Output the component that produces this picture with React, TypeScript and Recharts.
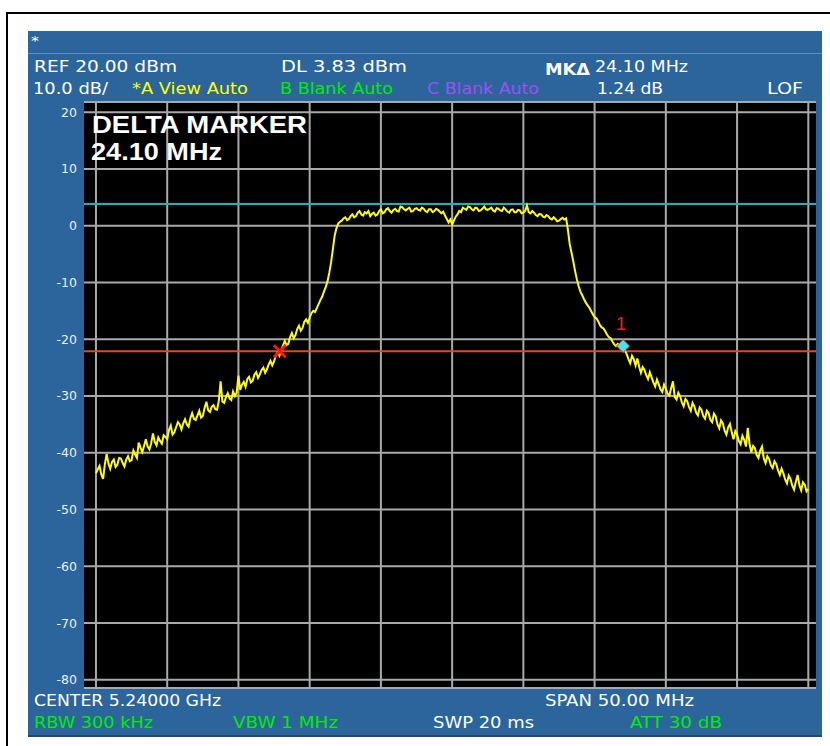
import React from 'react';
import {
  ComposedChart,
  Line,
  XAxis,
  YAxis,
  CartesianGrid,
  ReferenceLine,
  ReferenceDot,
} from 'recharts';

// ---- Data -------------------------------------------------------------
// Sweep: 5.215 GHz .. 5.265 GHz (CENTER 5.24 GHz, SPAN 50 MHz), 401 points
const sweepStartGHz = 5.215;
const sweepStepGHz = 0.000125;
const traceDbm = [
  -43.6, -42.9, -42.3, -43.8, -44.6, -42.0, -40.2, -41.9, -42.8, -41.6,
  -41.2, -42.5, -42.1, -40.9, -41.0, -41.8, -42.4, -41.2, -40.6, -41.5,
  -41.3, -39.6, -40.3, -40.9, -38.2, -39.1, -39.9, -38.8, -37.6, -38.9,
  -39.4, -38.3, -36.6, -38.1, -38.7, -37.3, -37.9, -38.4, -36.9, -37.2,
  -37.6, -36.0, -35.2, -36.8, -36.4, -35.5, -34.6, -35.0, -35.9, -34.8,
  -34.1, -35.0, -35.4, -33.9, -33.0, -34.0, -34.2, -33.4, -32.6, -33.8,
  -33.5, -32.1, -31.0, -32.5, -32.8, -31.9, -31.6, -32.3, -32.4, -30.8,
  -27.4, -31.0, -31.2, -30.2, -29.5, -30.4, -30.7, -29.2, -30.0, -29.4,
  -26.4, -28.9, -28.0, -27.5, -28.4, -27.0, -26.6, -27.6, -27.3, -26.2,
  -25.8, -26.8, -26.2, -25.4, -25.0, -25.9, -25.3, -24.4, -23.8, -24.6,
  -23.9, -22.8, -22.3, -22.9, -22.0, -21.1, -20.3, -21.0, -20.8, -19.6,
  -18.9, -19.8, -19.3, -18.2, -17.6, -18.5, -18.0, -16.9, -16.5, -17.1,
  -16.2, -15.4, -15.0, -15.2, -14.5, -13.8, -13.1, -12.5, -11.6, -10.8,
  -9.8, -8.3, -6.5, -4.2, -1.8, -0.5, 0.4, 0.7, 0.9, 1.3,
  1.5, 1.0, 1.2, 1.7, 2.0, 1.5, 1.7, 2.3, 2.6, 2.0,
  1.8, 2.4, 2.2, 2.6, 1.7, 2.1, 2.3, 1.8, 2.0, 2.6,
  2.9, 2.2, 2.4, 2.9, 3.1, 2.6, 2.3, 2.8, 3.0, 2.6,
  2.5, 3.4, 3.3, 2.9, 2.7, 3.0, 3.2, 2.5, 2.6, 3.0,
  3.1, 2.8, 2.7, 3.2, 3.0, 2.6, 2.4, 2.9, 2.9, 2.4,
  2.6, 3.0, 2.8, 2.5, 2.2, 2.5, 1.8, 1.2, 0.6, 1.1,
  0.2, 0.9, 1.6, 2.0, 2.6, 2.4, 3.2, 3.0, 2.8, 3.4,
  3.3, 2.9, 2.7, 3.2, 3.1, 2.6, 2.7, 3.0, 3.4, 2.9,
  2.8, 3.0, 3.2, 2.7, 2.5, 3.1, 3.0, 2.7, 2.6, 3.2,
  2.9, 2.5, 2.3, 2.8, 2.9, 2.4, 2.4, 2.8, 2.7, 2.2,
  2.3, 2.6, 3.6, 2.4, 2.2, 2.6, 2.3, 1.9, 1.7, 2.1,
  2.0, 1.6, 1.5, 1.9, 1.7, 1.3, 1.1, 1.5, 1.2, 0.8,
  0.9, 1.2, 1.4, 1.1, 1.3, -0.7, -3.2, -4.7, -6.2, -7.9,
  -9.4, -10.6, -11.6, -12.2, -12.9, -13.5, -14.0, -14.4, -15.0, -15.6,
  -16.1, -16.3, -16.8, -17.5, -17.9, -18.1, -18.6, -19.2, -19.6, -19.8,
  -20.4, -20.9, -21.2, -20.8, -21.0, -21.4, -21.2, -22.0, -22.6, -23.5,
  -24.2, -22.9, -23.5, -24.6, -23.4, -24.8, -25.9, -24.9, -25.4, -26.3,
  -27.0, -25.8, -26.7, -27.6, -28.3, -27.1, -27.9, -28.8, -29.3, -28.0,
  -28.7, -29.6, -29.9, -28.6, -27.4, -30.2, -30.6, -29.4, -30.0, -31.1,
  -31.8, -30.5, -30.9, -31.9, -32.6, -31.2, -31.8, -32.9, -33.4, -32.0,
  -32.4, -33.5, -34.0, -32.6, -33.0, -34.2, -34.6, -33.1, -33.6, -35.0,
  -35.7, -34.3, -34.8, -36.1, -36.8, -35.5, -34.9, -36.4, -37.6, -36.2,
  -36.8, -37.9, -38.5, -37.0, -37.7, -38.9, -35.6, -38.4, -39.9, -38.8,
  -39.2, -40.4, -40.9, -39.6, -38.9, -41.0, -41.8, -40.6, -41.1, -42.2,
  -42.7, -41.5, -42.0, -43.1, -43.9, -42.8, -43.6, -44.7, -45.4, -44.0,
  -44.6, -45.8, -46.5, -45.1, -43.9, -45.7, -46.6, -45.2, -45.6, -46.8,
  -46.4,
];

const xGridTicksGHz = [5.215, 5.22, 5.225, 5.23, 5.235, 5.24, 5.245, 5.25, 5.255, 5.26, 5.265];
const yTicksDbm = [-80, -70, -60, -50, -40, -30, -20, -10, 0, 10, 20];
const xDomainGHz: [number, number] = [5.21416, 5.26554];
const yDomainDbm: [number, number] = [-81.44, 21.81];

const displayLineDbm = 3.83;
const refMarker = { f: 5.2279, v: -22.1 };
const deltaMarker = { f: 5.252, v: -21.2, label: '1' };

const chartData = traceDbm.map((v, i) => ({ f: sweepStartGHz + i * sweepStepGHz, v }));

// ---- Shapes ------------------------------------------------------------
const CrossShape = (props: any) => {
  const { cx, cy } = props;
  if (cx == null || cy == null) return null;
  const s = 6;
  return (
    <g>
      <line x1={cx - s} y1={cy - s} x2={cx + s} y2={cy + s} stroke="#ff1414" strokeWidth={3} />
      <line x1={cx - s} y1={cy + s} x2={cx + s} y2={cy - s} stroke="#ff1414" strokeWidth={3} />
    </g>
  );
};

const DiamondShape = (props: any) => {
  const { cx, cy } = props;
  if (cx == null || cy == null) return null;
  const s = 6.5;
  return (
    <g>
      <path
        d={`M${cx},${cy - s} L${cx + s},${cy} L${cx},${cy + s} L${cx - s},${cy} Z`}
        fill="#3ee6f2"
        stroke="#ff2a2a"
        strokeWidth={1}
      />
      <text
        x={cx - 2}
        y={cy - 16}
        textAnchor="middle"
        fill="#ff1a1a"
        fontSize={18}
        fontFamily="'Liberation Sans', Arial, sans-serif"
      >
        {deltaMarker.label}
      </text>
    </g>
  );
};

const NARROW = "'Liberation Sans Narrow', 'Arial Narrow', 'DejaVu Sans Condensed', sans-serif";

const T = ({ x, y, w, size = 16.5, color = '#ffffff', weight = 'normal', family = NARROW, children }: any) => (
  <text
    x={x}
    y={y}
    textLength={w}
    lengthAdjust="spacingAndGlyphs"
    fontSize={size}
    fill={color}
    fontWeight={weight}
    fontFamily={family}
  >
    {children}
  </text>
);

const App = () => {
  return (
    <div
      style={{
        position: 'absolute',
        left: 0,
        top: 0,
        width: 830,
        height: 746,
        background: '#ffffff',
        overflow: 'hidden',
      }}
    >
      {/* outer frame */}
      <div
        style={{
          position: 'absolute',
          left: 6,
          top: 12,
          width: 840,
          height: 760,
          borderTop: '2px solid #000',
          borderLeft: '2px solid #000',
          boxSizing: 'border-box',
        }}
      />
      {/* instrument panel */}
      <div
        style={{
          position: 'absolute',
          left: 28,
          top: 31,
          width: 794,
          height: 706,
          background: '#2b659c',
          borderBottom: '2px solid #1d4a75',
          boxSizing: 'border-box',
        }}
      />
      <div
        style={{
          position: 'absolute',
          left: 28,
          top: 53,
          width: 794,
          height: 1,
          background: '#5d8fc2',
        }}
      />
      <div style={{ position: 'absolute', left: 0, top: 0 }}>
        <ComposedChart
          width={830}
          height={746}
          data={chartData}
          margin={{ top: 102, right: 14, bottom: 58, left: 44 }}
        >
          <CartesianGrid
            vertical={false}
            stroke="#a9a9a9"
            strokeWidth={2}
            fill="#000000"
            fillOpacity={1}
          />
          <XAxis
            dataKey="f"
            type="number"
            domain={xDomainGHz}
            ticks={xGridTicksGHz}
            interval={0}
            allowDataOverflow
            tick={false}
            axisLine={false}
            tickLine={false}
            height={0}
          />
          <YAxis
            type="number"
            domain={yDomainDbm}
            ticks={yTicksDbm}
            interval={0}
            allowDataOverflow
            width={40}
            tickSize={0}
            tickMargin={7}
            axisLine={false}
            tickLine={false}
            tick={{ fill: '#eeeeee', fontSize: 12.5, fontFamily: "'DejaVu Sans', sans-serif" }}
          />
          {xGridTicksGHz.map((t) => (
            <ReferenceLine key={`vg${t}`} x={t} stroke="#a9a9a9" strokeWidth={2} />
          ))}
          <ReferenceLine y={displayLineDbm} stroke="#17b5c0" strokeWidth={2} />
          <ReferenceLine y={refMarker.v} stroke="#d2521c" strokeWidth={2} />
          <Line
            type="linear"
            dataKey="v"
            stroke="#ffff00"
            strokeWidth={2}
            dot={false}
            isAnimationActive={false}
          />
          <ReferenceDot x={refMarker.f} y={refMarker.v} r={6} shape={CrossShape} />
          <ReferenceDot x={deltaMarker.f} y={deltaMarker.v} r={6} shape={DiamondShape} />
        </ComposedChart>
      </div>
      <svg
        width={830}
        height={746}
        style={{ position: 'absolute', left: 0, top: 0, pointerEvents: 'none' }}
      >
        <T x={31} y={45} w={8} size={13}>*</T>
        {/* header row 1 */}
        <T x={34} y={72} w={143}>REF  20.00 dBm</T>
        <T x={281} y={72} w={126}>DL   3.83 dBm</T>
        <T x={545} y={75} w={45} size={15} weight="bold">MKΔ</T>
        <T x={595} y={72} w={93}>24.10 MHz</T>
        {/* header row 2 */}
        <T x={33} y={94} w={75}>10.0 dB/</T>
        <T x={132} y={94} w={116} color="#ffff00">*A View Auto</T>
        <T x={280} y={94} w={113} color="#00ee00">B Blank Auto</T>
        <T x={427} y={94} w={112} color="#a050f0">C Blank Auto</T>
        <T x={597} y={94} w={66}>1.24 dB</T>
        <T x={767} y={94} w={36}>LOF</T>
        {/* plot annotation */}
        <T x={92} y={133} w={215} size={23} weight="bold" family="'Liberation Sans', Arial, sans-serif">DELTA MARKER</T>
        <T x={91} y={160} w={131} size={23} weight="bold" family="'Liberation Sans', Arial, sans-serif">24.10 MHz</T>
        {/* footer row 1 */}
        <T x={34} y={706} w={187}>CENTER 5.24000 GHz</T>
        <T x={545} y={706} w={149}>SPAN  50.00 MHz</T>
        {/* footer row 2 */}
        <T x={34} y={728} w={119} color="#00ee00">RBW  300 kHz</T>
        <T x={233} y={728} w={105} color="#00ee00">VBW  1 MHz</T>
        <T x={433} y={728} w={101}>SWP  20 ms</T>
        <T x={630} y={728} w={92} color="#00ee00">ATT 30 dB</T>
      </svg>
    </div>
  );
};

export default App;
